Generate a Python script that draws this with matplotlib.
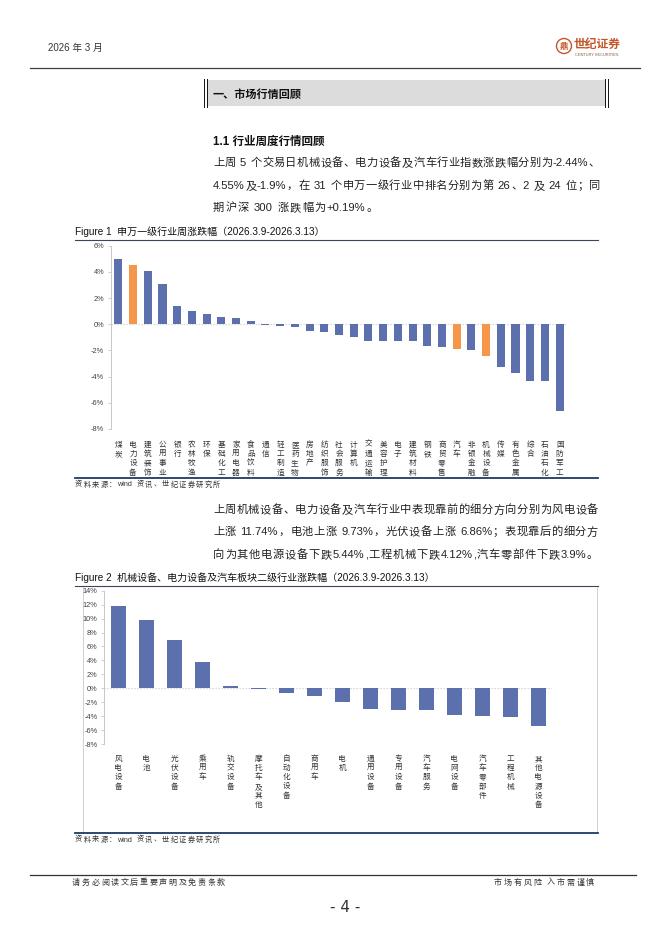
import re
import matplotlib
matplotlib.use('Agg')
import matplotlib.pyplot as plt
from matplotlib.font_manager import FontProperties
from matplotlib.patches import Rectangle, Circle
from matplotlib.transforms import blended_transform_factory

W, H = 662, 936
FAM = ['Liberation Sans', 'Noto Sans CJK SC']
CJK = ['Noto Sans CJK SC', 'DejaVu Sans']
plt.rcParams['font.family'] = FAM

# ---------------- data ----------------
industries = ['煤炭', '电力设备', '建筑装饰', '公用事业', '银行', '农林牧渔', '环保',
              '基础化工', '家用电器', '食品饮料', '通信', '轻工制造', '医药生物', '房地产',
              '纺织服饰', '社会服务', '计算机', '交通运输', '美容护理', '电子', '建筑材料',
              '钢铁', '商贸零售', '汽车', '非银金融', '机械设备', '传媒', '有色金属',
              '综合', '石油石化', '国防军工']
weekly_change = [5.02, 4.55, 4.05, 3.05, 1.40, 1.00, 0.78, 0.57, 0.50, 0.25, -0.05,
                 -0.13, -0.20, -0.55, -0.57, -0.85, -0.95, -1.25, -1.25, -1.25, -1.30,
                 -1.68, -1.70, -1.90, -1.96, -2.44, -3.25, -3.70, -4.30, -4.35, -6.65]
highlight = ['电力设备', '汽车', '机械设备']

sub_industries = ['风电设备', '电池', '光伏设备', '乘用车', '轨交设备', '摩托车及其他',
                  '自动化设备', '商用车', '电机', '通用设备', '专用设备', '汽车服务',
                  '电网设备', '汽车零部件', '工程机械', '其他电源设备']
sub_change = [11.74, 9.73, 6.86, 3.75, 0.33, -0.12, -0.62, -1.12, -1.95, -2.95, -3.05,
              -3.05, -3.85, -3.90, -4.12, -5.44]

yticks1 = [-8, -6, -4, -2, 0, 2, 4, 6]
yticks2 = [-8, -6, -4, -2, 0, 2, 4, 6, 8, 10, 12, 14]

BLUE = '#5b70ad'
ORANGE = '#f6964b'

# ---------------- figure / page ----------------
fig = plt.figure(figsize=(W / 100, H / 100), dpi=100)
page = fig.add_axes([0, 0, 1, 1])
page.set_xlim(0, W)
page.set_ylim(H, 0)
page.axis('off')
renderer = fig.canvas.get_renderer()

TXT = '#222222'


def justify(s, x0, x1, y, size, weight='normal', fill=True, color=TXT, family=FAM):
    fp = FontProperties(family=family, size=size, weight=weight)
    toks = re.findall(r'[A-Za-z0-9.\-+%]+|\s|.', s)
    widths = []
    for t in toks:
        if t.isspace():
            widths.append(size * 100 / 72 * 0.3)
        else:
            widths.append(renderer.get_text_width_height_descent(t, fp, ismath=False)[0])
    total = sum(widths)
    gap = (x1 - x0 - total) / (len(toks) - 1) if fill else size * 100 / 72 * 0.08
    x = x0
    for t, w in zip(toks, widths):
        if not t.isspace():
            page.text(x, y, t, fontproperties=fp, va='center', ha='left', color=color)
        x += w + gap


# header
page.text(48, 48, '2026 年 3 月', fontsize=7, va='center', ha='left', color='#333333')
LOGO = '#c4562b'
page.add_patch(Circle((564, 46), 7.5, fill=False, ec=LOGO, lw=1.0))
page.text(564, 46.5, '鼎', fontsize=6, ha='center', va='center', color=LOGO,
          family=CJK, weight='bold')
page.text(574, 44, '世纪证券', fontsize=8.5, ha='left', va='center', color=LOGO,
          family=CJK, weight='bold')
page.text(575, 55, 'CENTURY SECURITIES', fontsize=2.8, ha='left', va='center',
          color='#7a5a4a')
page.plot([30, 640], [68, 68], color='#404040', lw=0.9)

# section header box
page.add_patch(Rectangle((207.5, 80), 397, 26, fc='#dcdcdc', ec='none'))
for xx in (204, 206.5, 605, 607.5):
    page.plot([xx, xx], [79, 107], color='#111111', lw=0.7)
page.text(213, 94, '一、市场行情回顾', fontsize=8, weight='bold', va='center', ha='left',
          family=CJK, color='#111111')

# paragraph 1
page.text(213, 142, '1.1 行业周度行情回顾', fontsize=8.3, weight='bold', va='center',
          ha='left', color='#111111')
BS = 8.1
justify('上周 5 个交易日机械设备、电力设备及汽车行业指数涨跌幅分别为-2.44%、', 213, 600, 163, BS)
justify('4.55%及-1.9%，在 31 个申万一级行业中排名分别为第 26、2 及 24 位；同', 213, 600, 186, BS)
justify('期沪深 300 涨跌幅为+0.19%。', 213, 600, 208, BS, fill=False)

# paragraph 2
justify('上周机械设备、电力设备及汽车行业中表现靠前的细分方向分别为风电设备', 213, 598, 510, BS)
justify('上涨 11.74%，电池上涨 9.73%，光伏设备上涨 6.86%；表现靠后的细分方', 213, 598, 532, BS)
justify('向为其他电源设备下跌5.44%,工程机械下跌4.12%,汽车零部件下跌3.9%。', 213, 598, 555, BS)

NAVY = '#1f3864'
SRC = '资料来源：wind 资讯、世纪证券研究所'
# figure 1 frame texts
page.text(75, 232, 'Figure 1  申万一级行业周涨跌幅（2026.3.9-2026.3.13）', fontsize=7.2,
          va='center', ha='left', color='#111111')
page.plot([75, 598], [240, 240], color='#3a4660', lw=0.8)
page.plot([75, 598], [478, 478], color=NAVY, lw=1.3)
justify(SRC, 75, 220, 485, 5.2, color='#333333')

# figure 2 frame texts
page.text(75, 578, 'Figure 2  机械设备、电力设备及汽车板块二级行业涨跌幅（2026.3.9-2026.3.13）',
          fontsize=7.2, va='center', ha='left', color='#111111')
page.plot([75, 598], [586, 586], color='#3a4660', lw=0.8)
for xx in (83, 597):
    page.plot([xx, xx], [587, 832], color='#cfcfcf', lw=0.7)
page.plot([75, 598], [833, 833], color=NAVY, lw=1.3)
justify(SRC, 75, 220, 840, 5.2, color='#333333')

# footer
page.plot([30, 636], [875, 875], color='#333333', lw=0.9)
justify('请务必阅读文后重要声明及免责条款', 72, 225, 882, 5.8, color='#333333', family=CJK)
justify('市场有风险 入市需谨慎', 494, 594, 882, 5.8, color='#333333', family=CJK)
page.text(345, 908, '- 4 -', fontsize=11, va='center', ha='center', color='#333333',
          family=['DejaVu Sans'])


# ---------------- charts ----------------
def chart(x0, x1, ytop, ybot, cats, vals, colors, yticks, label_top, ls):
    ax = fig.add_axes([x0 / W, 1 - ybot / H, (x1 - x0) / W, (ybot - ytop) / H])
    ax.patch.set_alpha(0)
    xs = list(range(len(cats)))
    ax.bar(xs, vals, width=0.55, color=colors, zorder=2)
    ax.axhline(0, color='#d0d0d0', lw=0.8, ls=(0, (1.2, 1.5)), zorder=1)
    ax.set_xlim(-0.5, len(cats) - 0.5)
    ax.set_ylim(yticks[0], yticks[-1])
    ax.set_yticks(yticks)
    ax.set_yticklabels([f'{t}%' for t in yticks])
    ax.set_xticks([])
    for s in ('top', 'right', 'bottom'):
        ax.spines[s].set_visible(False)
    ax.spines['left'].set_color('#c8c8c8')
    ax.spines['left'].set_linewidth(0.7)
    ax.tick_params(axis='y', length=2, width=0.6, color='#c8c8c8', labelsize=5.3,
                   labelcolor='#404040', pad=3)
    tr = blended_transform_factory(ax.transData, page.transData)
    for i, c in enumerate(cats):
        ax.text(i, label_top, '\n'.join(c), transform=tr, ha='center', va='top',
                fontsize=5.5, linespacing=ls, family=CJK, color='#333333', clip_on=False)
    return ax


colors1 = [ORANGE if c in highlight else BLUE for c in industries]
chart(111, 567, 245.7, 429.0, industries, weekly_change, colors1, yticks1, 441, 1.2)

colors2 = [BLUE for _ in sub_industries]
chart(104.3, 552.3, 590.7, 744.1, sub_industries, sub_change, colors2, yticks2, 755, 1.2)

fig.savefig('out.png', dpi=100)
